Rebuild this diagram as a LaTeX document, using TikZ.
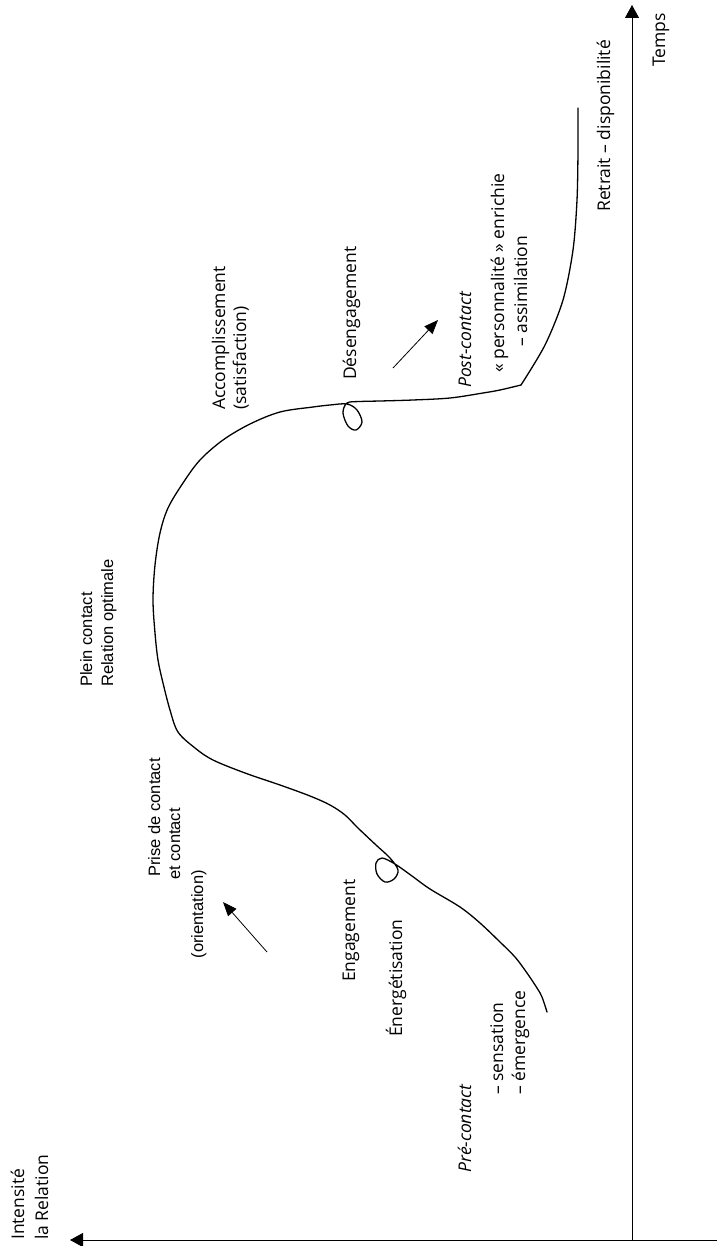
\documentclass[tikz,border=0pt]{standalone}
\usepackage{fontspec}
\setmainfont{Open Sans}
\newfontfamily\arialf{Liberation Sans}
\usetikzlibrary{arrows.meta}
\begin{document}
\begin{tikzpicture}[x=1pt,y=-1pt,
  lbl/.style={rotate=90, inner sep=0pt, font=\fontsize{17.5}{21}\selectfont},
  ilbl/.style={rotate=90, inner sep=0pt, font=\fontsize{17.5}{21}\selectfont\itshape},
  albl/.style={rotate=90, inner sep=0pt, font=\arialf\fontsize{16.5}{20}\selectfont},
  axis/.style={line width=0.9pt, -{Triangle[length=13pt,width=14pt]}},
  curve/.style={line width=1.3pt, line join=round, line cap=round},
  pointer/.style={line width=0.8pt, -{Triangle[length=14pt,width=11pt]}}
]
\useasboundingbox (0,0) rectangle (717,1246);

% axes
\coordinate (hr) at (717,1240);
\coordinate (hl) at (70,1240);
\coordinate (vb) at (632,1240);
\coordinate (vt) at (632,5);
\draw[axis] (hr) -- (hl);
\draw[axis] (vb) -- (vt);

% labels
\node[lbl, anchor=base west] (int1) at (24,1240) {Intensité};
\node[lbl, anchor=base west] (int2) at (48,1240) {la Relation};
\node[lbl, anchor=base west] (temps) at (665,67) {Temps};
\node[lbl, anchor=base west] (retrait) at (610,212) {Retrait – disponibilité};
\node[ilbl, anchor=base west] (post) at (471,388) {Post-contact};
\node[lbl, anchor=base west] (pers) at (504,373) {« personnalité » enrichie};
\node[lbl, anchor=base west] (assim) at (527,347) {– assimilation};
\node[lbl, anchor=base west] (deseng) at (356,380) {Désengagement};
\node[lbl, anchor=base west] (acc1) at (225,410) {Accomplissement};
\node[lbl, anchor=base west] (acc2) at (246,410) {(satisfaction)};
\node[albl, anchor=base west] (plein1) at (92,687) {Plein contact};
\node[albl, anchor=base west] (plein2) at (113,687) {Relation optimale};
\node[albl, anchor=base east] (prise1) at (160,758) {Prise de contact};
\node[albl, anchor=base east] (prise2) at (180,808) {et contact};
\node[albl, anchor=base east] (prise3) at (203,870) {(orientation)};
\node[lbl, anchor=base west] (eng) at (355,982) {Engagement};
\node[lbl, anchor=base west] (energ) at (402,1037) {Énergétisation};
\node[ilbl, anchor=base west] (pre) at (471,1173) {Pré-contact};
\node[lbl, anchor=base west] (sens) at (503,1095) {– sensation};
\node[lbl, anchor=base west] (emerg) at (525,1095) {– émergence};

% small arrows
\coordinate (a1s) at (267,952);
\coordinate (a1e) at (223,902);
\draw[pointer] (a1s) -- (a1e);
\coordinate (a2s) at (393,368);
\coordinate (a2e) at (438,320);
\draw[pointer] (a2s) -- (a2e);

% contact curve
\draw[curve] plot[smooth, tension=0.5] coordinates {
  (578,108) (578,150) (577,200) (573,250) (563,300) (545,345) (521,385)};
\draw[curve] plot[smooth, tension=0.55] coordinates {
  (521,385) (500,390) (483,393) (450,398) (413,400) (380,401) (360,401.5)
  (347,403) (343,413) (348,426) (356,430) (362,422) (357,410) (347,404)
  (330,405) (313,407) (280,412) (250,424) (223,440) (200,460) (183,483)
  (168,508) (160,533) (155,565) (153,600) (155,633) (158,660) (163,683)
  (170,710) (178,732) (195,748) (213,760) (245,773) (280,785) (310,796)
  (330,805) (345,815) (358,828) (376,845) (390,858) (398,870) (394,879)
  (385,882) (377,874) (376,863) (382,858) (395,864) (412,876) (430,889)
  (460,907) (480,923) (500,942) (515,957) (527,973) (537,988) (542,997)
  (547,1012)};
\end{tikzpicture}
\end{document}
